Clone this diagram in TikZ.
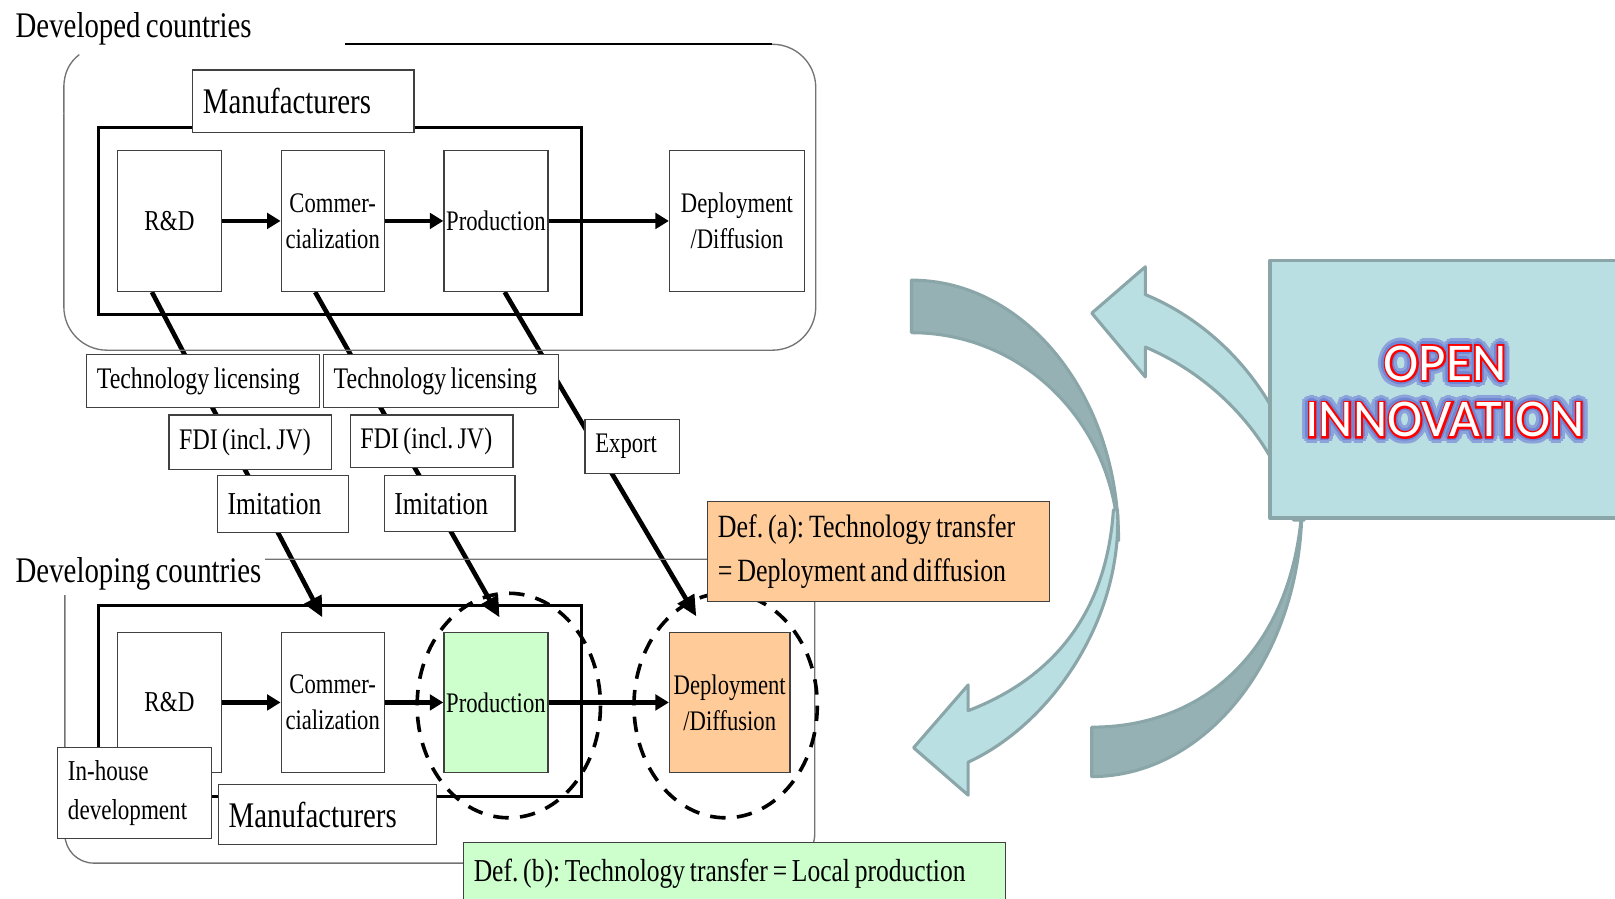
\documentclass[tikz,border=0pt]{standalone}
\usepackage{fontspec}
\setmainfont{Liberation Serif}[FakeStretch=0.8,WordSpace=0.75]
\newfontfamily\oifont{Carlito}
\newfontfamily\oiredfont{Carlito}[FakeBold=7]
\usepackage{tikz}
\usetikzlibrary{arrows.meta}
\usetikzlibrary{calc}
\usetikzlibrary{backgrounds}

\definecolor{lgreen}{HTML}{CCFFCC}
\definecolor{lorange}{HTML}{FFCC99}
\definecolor{arrdark}{RGB}{149,177,180}
\definecolor{arrlight}{RGB}{185,223,227}
\definecolor{arredge}{RGB}{138,166,169}
\definecolor{glowblue}{RGB}{112,135,212}
\definecolor{glowsoft}{RGB}{140,162,218}
\newcommand\fsz[2]{\fontsize{#1}{#2}\selectfont}
\frenchspacing

\begin{document}
\begin{tikzpicture}[x=1pt,y=-1pt,
    frame/.style={draw=black!55,line width=1.3pt},
    mframe/.style={draw=black,line width=3pt},
    pbox/.style={draw=black!75,line width=1.2pt,fill=white,align=center,inner sep=0pt,minimum height=137pt,font=\fsz{27.5}{35}},
    lbox/.style={draw=black!75,line width=1.2pt,fill=white,align=flush left,inner xsep=10pt,inner ysep=0pt},
    flow/.style={line width=4pt,-{Triangle[length=13pt,width=15pt]}},
    link/.style={line width=4.5pt,-{Triangle[length=20pt,width=18pt]}},
    ring/.style={line width=3.5pt,dash pattern=on 15pt off 11pt},
    blob/.style={draw=arredge,line width=3pt,line join=round},
    oitext/.style={align=center,inner sep=0pt,font={\oifont\fsz{51.5}{55}}}]
  \useasboundingbox (0,0) rectangle (1568,872);

  % developed countries
  \draw[frame,rounded corners=42pt] (335,43) -- (792,43) -- (792,340) -- (62,340) -- (62,110);
  \draw[frame] (62,110) -- (62,85) .. controls (62,70) and (68,60) .. (77,53);
  \draw[black,line width=1.6pt] (335,43) -- (750,43);
  \node[font=\fsz{35}{40},anchor=base west,inner sep=0pt] (dvd) at (15,36) {Developed countries};

  \draw[mframe] (96,124) rectangle (565,305);
  \node[lbox,text width=195pt,minimum height=61pt,font=\fsz{35}{40}] (mf1) at (294.5,98.5) {Manufacturers};
  \node[pbox,minimum width=101pt,font=\fsz{28}{35}] (rd1) at (164.5,214.5) {R\&D};
  \node[pbox,minimum width=100pt] (cm1) at (323,214.5) {Commer-\\cialization};
  \node[pbox,minimum width=101pt] (pr1) at (481.5,214.5) {Production};
  \node[pbox,minimum width=131pt] (dp1) at (715.5,214.5) {Deployment\\/Diffusion};
  \draw[flow] (rd1.east) -- (cm1.west);
  \draw[flow] (cm1.east) -- (pr1.west);
  \draw[flow] (pr1.east) -- (dp1.west);

  % channels
  \node[lbox,text width=206pt,minimum height=52pt,font=\fsz{29}{34}] (tl1) at (197,370) {Technology licensing};
  \node[lbox,text width=208pt,minimum height=52pt,font=\fsz{29}{34}] (tl2) at (428,370) {Technology licensing};
  \node[lbox,text width=138pt,minimum height=53pt,font=\fsz{29}{34}] (fdi1) at (243,429.5) {FDI (incl. JV)};
  \node[lbox,text width=138pt,minimum height=51pt,font=\fsz{29}{34}] (fdi2) at (419,428.5) {FDI (incl. JV)};
  \node[lbox,text width=107pt,minimum height=55pt,font=\fsz{31}{36}] (imi1) at (274.5,489.5) {Imitation};
  \node[lbox,text width=107pt,minimum height=54pt,font=\fsz{31}{36}] (imi2) at (436.5,489) {Imitation};
  \node[lbox,text width=72pt,minimum height=53pt,font=\fsz{27.5}{33}] (exp) at (614,433.5) {Export};

  % developing countries
  \draw[frame,rounded corners=28pt] (63,543) rectangle (791,838);
  \node[font=\fsz{35}{40},anchor=base west,inner sep=4pt,fill=white] (dvg) at (11,566) {Developing countries};
  \draw[mframe] (96,588) rectangle (565,773);
  \node[pbox,minimum width=101pt,minimum height=136pt,font=\fsz{28}{35}] (rd2) at (164.5,682) {R\&D};
  \node[pbox,minimum width=100pt,minimum height=136pt] (cm2) at (323,682) {Commer-\\cialization};
  \node[pbox,minimum width=101pt,minimum height=136pt,fill=lgreen] (pr2) at (481.5,682) {Production};
  \node[pbox,minimum width=117pt,minimum height=136pt,fill=lorange] (dp2) at (708.5,682) {Deployment\\/Diffusion};
  \draw[flow] (rd2.east) -- (cm2.west);
  \draw[flow] (cm2.east) -- (pr2.west);
  \draw[flow] (pr2.east) -- (dp2.west);
  \node[lbox,text width=129pt,minimum height=88pt,font=\fsz{28}{38}] (inh) at (130.5,770) {In-house\\development};
  \node[lbox,text width=192pt,minimum height=58pt,font=\fsz{35}{40}] (mf2) at (318,791) {Manufacturers};
  \draw[ring] (494,685) ellipse [x radius=89, y radius=109];
  \draw[ring] (704.5,685) ellipse [x radius=89, y radius=109];

  \node[lbox,fill=lorange,text width=312pt,minimum height=97pt,font=\fsz{31.5}{42}] (defa) at (853,535.5) {Def. (a): Technology transfer\\= Deployment and diffusion};
  \node[lbox,fill=lgreen,text width=506pt,minimum height=60pt,font=\fsz{31}{36}] (defb) at (713,848) {Def. (b): Technology transfer = Local production};

  \begin{scope}[on background layer]
    \draw[link] ([xshift=-17pt]rd1.south) -- ([shift={(-10pt,14pt)}]cm2.north);
    \draw[link] ([xshift=-17pt]cm1.south) -- ([shift={(3.5pt,14pt)}]pr2.north);
    \draw[link] ([xshift=8.5pt]pr1.south) -- ([shift={(-32.5pt,15pt)}]dp2.north);
  \end{scope}

  % circular arrows
  \draw[blob,fill=arrdark] (885,272) .. controls (996,272) and (1086,385) .. (1086,525)
    .. controls (1082,410) and (993,323) .. (885,323) -- cycle;
  \draw[blob,fill=arrlight] (1085,495) .. controls (1090,600) and (1022,702) .. (940,740)
    -- (940,772) -- (887,726) -- (940,665) -- (940,690)
    .. controls (1018,660) and (1074,600) .. (1081,495) -- cycle;
  \draw[blob,fill=arrdark] (1060,706) -- (1060,754) .. controls (1170,754) and (1262,640) .. (1264,495)
    .. controls (1254,630) and (1170,706) .. (1060,706) -- cycle;
  \draw[blob,fill=arrlight] (1112,286) .. controls (1190,318) and (1262,400) .. (1266,505)
    -- (1256,505) .. controls (1245,440) and (1190,370) .. (1112,337)
    -- (1112,366) -- (1060,304) -- (1112,259) -- cycle;

  % open innovation
  \draw[blob,fill=arrlight,line width=3.5pt] (1233,253) rectangle (1600,503);
  \coordinate (oi) at (1403,380);
  \foreach \a in {0,22.5,...,337.5}
    \node[oitext,text=glowsoft] at ($(oi)+(\a:7pt)$) {OPEN\\INNOVATION};
  \foreach \a in {0,30,...,330}
    \node[oitext,text=glowblue] at ($(oi)+(\a:4pt)$) {OPEN\\INNOVATION};
  \node[oitext,text=red,font={\oiredfont\fsz{51.5}{55}}] (oired) at (oi) {OPEN\\INNOVATION};
  \node[oitext,text=white] (oitxt) at (oi) {OPEN\\INNOVATION};
\end{tikzpicture}
\end{document}
